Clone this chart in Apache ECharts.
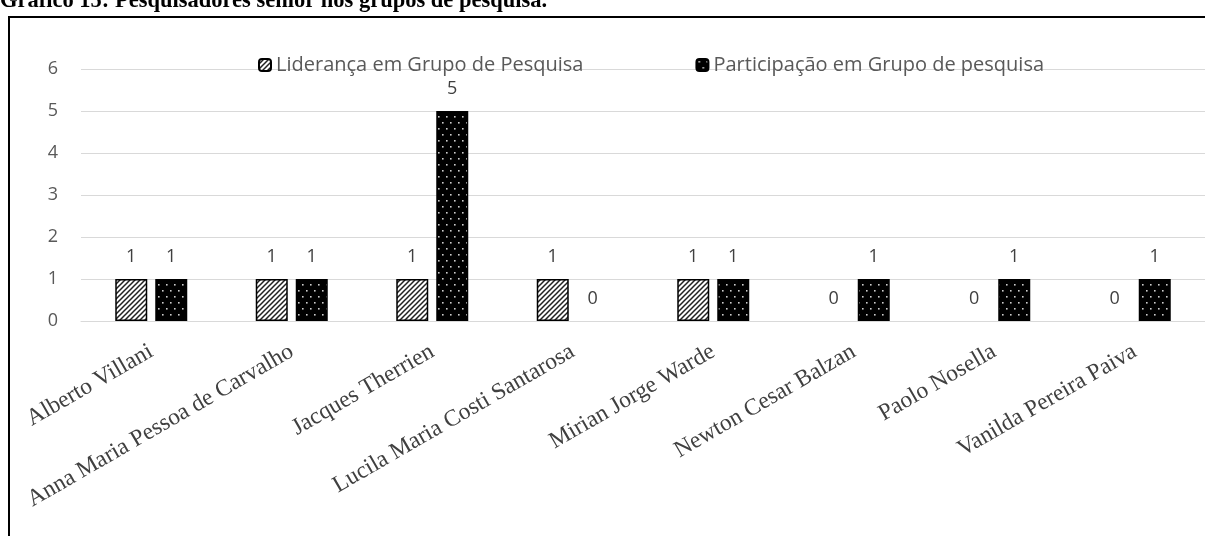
<!DOCTYPE html>
<html>
<head>
<meta charset="utf-8">
<script src="https://cdn.jsdelivr.net/npm/echarts@6/dist/echarts.min.js"></script>
<style>
html,body{margin:0;padding:0;background:#fff;}
#chart{width:1205px;height:536px;}
</style>
</head>
<body>
<div id="chart"></div>
<script>
const titleText = 'Gráfico 15: Pesquisadores senior nos grupos de pesquisa.';
const categories = ['Alberto Villani','Anna Maria Pessoa de Carvalho','Jacques Therrien','Lucila Maria Costi Santarosa','Mirian Jorge Warde','Newton Cesar Balzan','Paolo Nosella','Vanilda Pereira Paiva'];
const seriesNames = ['Liderança em Grupo de Pesquisa','Participação em Grupo de pesquisa'];
const lideranca = [1,1,1,1,1,0,0,0];
const participacao = [1,1,5,0,1,1,1,1];
const yTicks = [0,1,2,3,4,5,6];

function hatchPattern(){
  const c=document.createElement('canvas'); c.width=5; c.height=5;
  const g=c.getContext('2d');
  g.fillStyle='#fff'; g.fillRect(0,0,5,5);
  g.strokeStyle='#222'; g.lineWidth=1.5;
  g.beginPath();
  g.moveTo(-1,6); g.lineTo(6,-1);
  g.moveTo(-3.5,3.5); g.lineTo(3.5,-3.5);
  g.moveTo(1.5,8.5); g.lineTo(8.5,1.5);
  g.stroke();
  return c;
}
function dotPattern(){
  const c=document.createElement('canvas'); c.width=8; c.height=12;
  const g=c.getContext('2d');
  g.fillStyle='#000'; g.fillRect(0,0,8,12);
  g.fillStyle='#ccc';
  g.fillRect(2,2,1.6,1.6);
  g.fillRect(6,8,1.6,1.6);
  return c;
}
function toItems(arr){
  return arr.map(v => v === 0 ? {value:v, itemStyle:{borderWidth:0}} : v);
}

const chart = echarts.init(document.getElementById('chart'), null, {renderer:'canvas'});
const labelStyle = {show:true, position:'top', distance:13, fontFamily:'Open Sans', fontSize:18, color:'#404040'};
chart.setOption({
  backgroundColor:'#fff',
  animation:false,
  graphic:[
    {type:'rect', shape:{x:9,y:17,width:1400,height:700}, style:{fill:'none', stroke:'#000', lineWidth:2}, z:-1},
    {type:'text', left:0, top:-10, style:{text:titleText, font:'bold 22.5px "Liberation Serif"', fill:'#000'}}
  ],
  legend:{
    left:253, top:50, itemWidth:12, itemHeight:12, itemGap:112,
    textStyle:{fontFamily:'Open Sans', fontSize:20, color:'#595959'},
    data:seriesNames
  },
  grid:{left:81, right:-4, top:69, bottom:215, containLabel:false},
  xAxis:{
    type:'category', data:categories,
    axisLine:{lineStyle:{color:'#d9d9d9'}},
    axisTick:{show:false},
    axisLabel:{rotate:30, margin:29, interval:0, fontFamily:'Liberation Serif', fontSize:23.5, color:'#404040'}
  },
  yAxis:{
    type:'value', min:yTicks[0], max:yTicks[yTicks.length-1], interval:1,
    axisLine:{show:false}, axisTick:{show:false},
    splitLine:{lineStyle:{color:'#d9d9d9'}},
    axisLabel:{margin:23, fontFamily:'Open Sans', fontSize:18, color:'#595959'}
  },
  series:[
    {name:seriesNames[0], type:'bar', data:toItems(lideranca), barWidth:32, barGap:'25%',
     itemStyle:{color:{image:hatchPattern(), repeat:'repeat'}, borderColor:'#000', borderWidth:1.5},
     label:labelStyle},
    {name:seriesNames[1], type:'bar', data:toItems(participacao), barWidth:32,
     itemStyle:{color:{image:dotPattern(), repeat:'repeat'}, borderColor:'#000', borderWidth:1.5},
     label:labelStyle}
  ]
});
</script>
</body>
</html>
